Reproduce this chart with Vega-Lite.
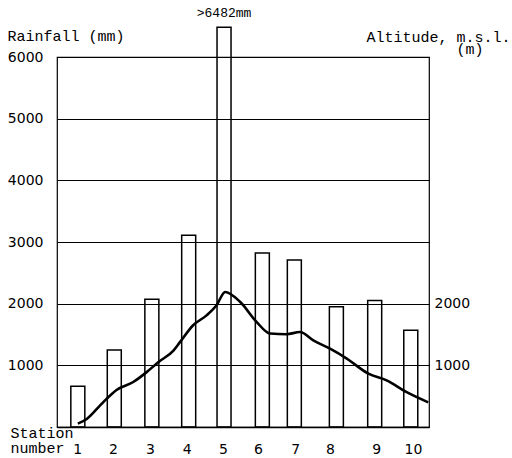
{
  "$schema": "https://vega.github.io/schema/vega-lite/v6.json",
  "width": 372,
  "height": 370,
  "autosize": {"type": "none"},
  "padding": {"left": 57, "top": 57, "right": 83, "bottom": 31},
  "background": "white",
  "config": {
    "view": {"stroke": "black", "strokeWidth": 1.2},
    "axis": {"labelColor": "black", "titleColor": "black", "titleFontWeight": "normal"}
  },
  "layer": [
    {
      "data": {"values": [
        {"station": 1, "pos": 5.6, "rainfall": 660},
        {"station": 2, "pos": 15.4, "rainfall": 1250},
        {"station": 3, "pos": 25.5, "rainfall": 2070},
        {"station": 4, "pos": 35.4, "rainfall": 3110},
        {"station": 5, "pos": 44.9, "rainfall": 6482},
        {"station": 6, "pos": 55.2, "rainfall": 2820},
        {"station": 7, "pos": 63.8, "rainfall": 2710},
        {"station": 8, "pos": 75.1, "rainfall": 1950},
        {"station": 9, "pos": 85.4, "rainfall": 2050},
        {"station": 10, "pos": 95.1, "rainfall": 1570}
      ]},
      "layer": [
        {
          "mark": {"type": "bar", "width": 14, "fill": null, "fillOpacity": 0, "stroke": "black", "strokeWidth": 1.5},
          "encoding": {
            "x": {
              "field": "pos", "type": "quantitative",
              "scale": {"domain": [0, 100], "nice": false, "zero": false, "padding": 0},
              "axis": {
                "values": [5.4, 15.05, 25, 34.9, 44.6, 54, 64, 73.4, 85.8, 95.7],
                "labelExpr": "indexof([5.4, 15.05, 25, 34.9, 44.6, 54, 64, 73.4, 85.8, 95.7], datum.value) + 1",
                "ticks": false, "grid": false, "domain": true, "domainColor": "black", "domainWidth": 1.5,
                "labelFont": "DejaVu Sans", "labelFontSize": 14, "labelPadding": 15, "labelFlush": false,
                "title": ["Station", "number"],
                "titleFont": "Liberation Mono", "titleFontSize": 15, "titleLineHeight": 15,
                "titleAlign": "left", "titleBaseline": "top", "titleAnchor": "start",
                "titleX": -47, "titleY": -2, "titleAngle": 0
              }
            },
            "y": {
              "field": "rainfall", "type": "quantitative",
              "scale": {"domain": [0, 6000], "nice": false},
              "axis": {
                "values": [1000, 2000, 3000, 4000, 5000, 6000],
                "format": "d",
                "ticks": false, "domain": false, "grid": true, "gridColor": "black", "gridOpacity": 1, "gridWidth": 1.2,
                "labelFont": "DejaVu Sans", "labelFontSize": 14, "labelPadding": 14,
                "title": "Rainfall (mm)",
                "titleFont": "Liberation Mono", "titleFontSize": 15,
                "titleAlign": "left", "titleBaseline": "middle", "titleAngle": 0,
                "titleX": -50, "titleY": -22
              }
            }
          }
        },
        {
          "transform": [{"filter": "datum.station == 5"}],
          "mark": {"type": "text", "font": "Liberation Mono", "fontSize": 13, "baseline": "middle", "dy": -14, "color": "black"},
          "encoding": {
            "x": {"field": "pos", "type": "quantitative"},
            "y": {"field": "rainfall", "type": "quantitative"},
            "text": {"value": ">6482mm"}
          }
        }
      ]
    },
    {
      "data": {"values": [
        {"pos": 5.6, "altitude": 55},
        {"pos": 8.0, "altitude": 130},
        {"pos": 11.6, "altitude": 350},
        {"pos": 13.4, "altitude": 460},
        {"pos": 16.0, "altitude": 600},
        {"pos": 20.5, "altitude": 730},
        {"pos": 24.1, "altitude": 890},
        {"pos": 27.2, "altitude": 1050},
        {"pos": 31.3, "altitude": 1240},
        {"pos": 33.1, "altitude": 1380},
        {"pos": 36.6, "altitude": 1650},
        {"pos": 40.2, "altitude": 1810},
        {"pos": 42.9, "altitude": 1975},
        {"pos": 45.2, "altitude": 2190},
        {"pos": 49.2, "altitude": 2030},
        {"pos": 53.7, "altitude": 1700},
        {"pos": 57.3, "altitude": 1515},
        {"pos": 61.7, "altitude": 1505},
        {"pos": 65.3, "altitude": 1540},
        {"pos": 68.9, "altitude": 1405},
        {"pos": 73.4, "altitude": 1270},
        {"pos": 77.9, "altitude": 1110},
        {"pos": 83.7, "altitude": 865},
        {"pos": 88.6, "altitude": 755},
        {"pos": 94.0, "altitude": 565},
        {"pos": 99.8, "altitude": 400}
      ]},
      "mark": {"type": "line", "color": "black", "strokeWidth": 2.6, "interpolate": "monotone"},
      "encoding": {
        "x": {"field": "pos", "type": "quantitative"},
        "y": {
          "field": "altitude", "type": "quantitative",
          "scale": {"domain": [0, 6000], "nice": false},
          "axis": {
            "orient": "right",
            "values": [1000, 2000],
            "format": "d",
            "ticks": false, "domain": false, "grid": false,
            "labelFont": "DejaVu Sans", "labelFontSize": 14, "labelPadding": 5, "labelAlign": "left",
            "title": ["Altitude, m.s.l.", "\u200b\u00a0\u00a0\u00a0\u00a0\u00a0\u00a0\u00a0\u00a0\u00a0\u00a0(m)"],
            "titleFont": "Liberation Mono", "titleFontSize": 15, "titleLineHeight": 12,
            "titleAlign": "left", "titleBaseline": "middle", "titleAngle": 0,
            "titleX": -63, "titleY": -21
          }
        }
      }
    }
  ],
  "resolve": {"scale": {"y": "independent"}, "axis": {"y": "independent"}}
}
